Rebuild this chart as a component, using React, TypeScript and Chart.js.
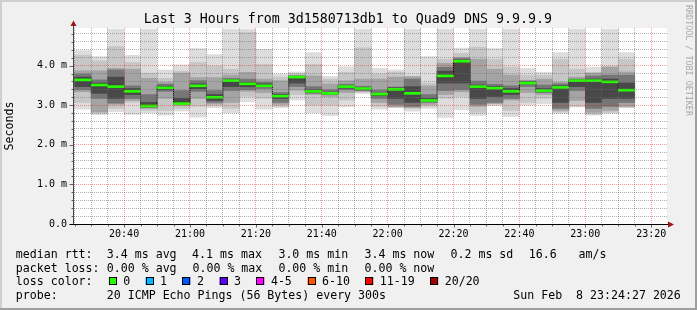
import { useEffect, useRef } from "react";
import { Chart, registerables } from "chart.js";

Chart.register(...registerables);

// ---------- data (ms) ----------
const bucketEnd = [
  "20:30", "20:35", "20:40", "20:45", "20:50", "20:55", "21:00", "21:05", "21:10", "21:15",
  "21:20", "21:25", "21:30", "21:35", "21:40", "21:45", "21:50", "21:55", "22:00", "22:05",
  "22:10", "22:15", "22:20", "22:25", "22:30", "22:35", "22:40", "22:45", "22:50", "22:55",
  "23:00", "23:05", "23:10", "23:15",
];

const medianRtt = [3.64, 3.51, 3.47, 3.35, 2.98, 3.44, 3.04, 3.49, 3.2, 3.62, 3.54, 3.49, 3.23, 3.71, 3.35, 3.3, 3.47, 3.42, 3.28, 3.4, 3.3, 3.12, 3.74, 4.11, 3.47, 3.43, 3.35, 3.56, 3.37, 3.45, 3.62, 3.62, 3.59, 3.38];

const smokeMin = [2.9, 2.76, 2.84, 2.77, 2.81, 2.75, 2.85, 2.7, 2.94, 2.81, 3.09, 2.9, 2.94, 3.13, 2.81, 2.74, 2.96, 3.3, 2.9, 2.94, 2.85, 2.92, 2.69, 2.89, 2.74, 2.99, 2.71, 3.0, 3.04, 2.79, 2.96, 2.75, 2.79, 2.94];
const smokeLo2 = [3.07, 2.8, 2.92, 3.07, 2.87, 2.87, 2.92, 2.97, 2.99, 2.92, 3.22, 3.17, 2.97, 3.27, 3.0, 3.0, 3.13, 3.33, 2.97, 2.95, 2.92, 2.97, 3.17, 3.22, 2.82, 3.02, 2.87, 3.07, 3.17, 2.83, 2.97, 2.77, 2.82, 2.95];
const smokeLo3 = [3.34, 2.83, 3.02, 3.12, 2.92, 3.17, 2.99, 3.17, 3.03, 3.07, 3.35, 3.32, 3.02, 3.38, 3.27, 3.22, 3.32, 3.35, 3.07, 2.96, 2.94, 3.02, 3.27, 3.34, 2.97, 3.04, 3.13, 3.32, 3.27, 2.87, 3.12, 2.82, 2.87, 2.97];
const smokeLo4 = [3.39, 3.17, 3.05, 3.17, 2.94, 3.35, 3.02, 3.35, 3.07, 3.37, 3.39, 3.42, 3.07, 3.47, 3.3, 3.27, 3.39, 3.37, 3.17, 3.02, 2.97, 3.07, 3.37, 3.39, 3.02, 3.07, 3.17, 3.47, 3.32, 2.92, 3.37, 2.92, 2.97, 3.07];
const smokeLo5 = [3.47, 3.3, 3.17, 3.27, 2.96, 3.39, 3.03, 3.42, 3.12, 3.47, 3.47, 3.47, 3.17, 3.56, 3.33, 3.29, 3.43, 3.39, 3.24, 3.17, 3.07, 3.1, 3.56, 3.56, 3.17, 3.22, 3.27, 3.54, 3.35, 3.07, 3.47, 3.07, 3.17, 3.17];
const smokeHi5 = [3.71, 3.56, 3.71, 3.42, 3.07, 3.48, 3.17, 3.54, 3.27, 3.64, 3.58, 3.54, 3.27, 3.72, 3.39, 3.33, 3.49, 3.44, 3.3, 3.44, 3.47, 3.17, 3.86, 4.14, 3.51, 3.47, 3.42, 3.59, 3.42, 3.49, 3.64, 3.66, 3.66, 3.56];
const smokeHi4 = [3.79, 3.64, 3.89, 3.49, 3.27, 3.53, 3.37, 3.62, 3.37, 3.68, 3.66, 3.58, 3.32, 3.74, 3.47, 3.39, 3.53, 3.48, 3.38, 3.46, 3.66, 3.27, 3.96, 4.18, 3.61, 3.53, 3.49, 3.61, 3.51, 3.54, 3.66, 3.74, 3.76, 3.76];
const smokeHi3 = [3.87, 3.87, 3.93, 3.91, 3.68, 3.58, 3.81, 3.7, 3.7, 3.76, 3.83, 3.66, 3.62, 3.76, 3.74, 3.54, 3.62, 3.66, 3.66, 3.71, 3.72, 3.49, 4.06, 4.21, 4.16, 3.91, 3.76, 3.63, 3.66, 3.58, 3.71, 3.81, 3.96, 3.84];
const smokeHi2 = [4.26, 4.12, 4.48, 4.08, 3.81, 3.68, 3.86, 4.08, 3.99, 3.91, 4.85, 4.03, 3.71, 3.8, 4.03, 3.66, 3.83, 4.45, 3.79, 3.84, 3.74, 3.56, 4.16, 4.31, 4.46, 4.16, 3.96, 3.76, 3.76, 4.16, 3.91, 3.83, 3.99, 4.16];
const smokeMax = [4.38, 4.23, 4.92, 4.26, 4.92, 3.89, 4.02, 4.43, 4.28, 4.92, 4.92, 4.41, 3.79, 3.84, 4.33, 3.73, 3.97, 4.92, 3.93, 3.89, 4.92, 4.23, 4.92, 4.44, 4.92, 4.43, 4.92, 3.93, 3.83, 4.33, 4.92, 3.96, 4.92, 4.33];

// ---------- axes ----------
const axisStart = "20:24:48";
const axisEnd = "23:24:48";
const xTickLabels = ["20:40", "21:00", "21:20", "21:40", "22:00", "22:20", "22:40", "23:00", "23:20"];
const yTickLabels = ["0.0", "1.0 m", "2.0 m", "3.0 m", "4.0 m"];
const yMax = 4.95;

// ---------- legend text ----------
const titleText = "Last 3 Hours from 3d1580713db1 to Quad9 DNS 9.9.9.9";
const rttStats = ["3.4 ms avg", "4.1 ms max", "3.0 ms min", "3.4 ms now", "0.2 ms sd", "16.6", "am/s"];
const lossStats = ["0.00 % avg", "0.00 % max", "0.00 % min", "0.00 % now"];
const lossLabels = ["0", "1", "2", "3", "4-5", "6-10", "11-19", "20/20"];
const lossColors = ["#26ff00", "#00b8ff", "#0059ff", "#5e00ff", "#ff00ff", "#ff5500", "#ff0000", "#a10000"];
const probeText = "20 ICMP Echo Pings (56 Bytes) every 300s";
const dateText = "Sun Feb  8 23:24:27 2026";
const watermark = "RRDTOOL / TOBI OETIKER";

// ---------- layout / style ----------
const W = 697;
const H = 310;
const MONO = '"DejaVu Sans Mono", monospace';
const rttX = [106.8, 192.1, 278.4, 364.5, 450.5, 528.8, 578.5];
const lossX = [106.8, 192.5, 278.4, 364.5];
const boxX = [108.8, 145.5, 182.4, 219.5, 256.4, 307.6, 365.3, 430.2];
const rowBase = [257.5, 271.5, 285.3, 299.3];
const smokeColors = ["#dddddd", "#c6c6c6", "#a4a4a4", "#767676", "#484848"];
const MEDIAN_HALF = 0.025;
const MAJOR_GRID = "rgba(255,0,0,0.4)";
const MINOR_GRID = "rgba(110,110,110,0.55)";

const toMin = (s: string) => {
  const p = s.split(":").map(Number);
  return (p[0] - 20) * 60 + p[1] + (p[2] || 0) / 60;
};

const isMajorY = (v: number) => Math.abs(v - Math.round(v)) < 1e-6;

const decorations = {
  id: "rrdDecor",
  beforeDraw(chart: any) {
    const { ctx, chartArea: ca } = chart;
    ctx.save();
    ctx.fillStyle = "#f0f0f0";
    ctx.fillRect(0, 0, W, H);
    ctx.fillStyle = "#cfcfcf";
    ctx.fillRect(0, 0, W, 2);
    ctx.fillRect(0, 0, 2, H);
    ctx.fillStyle = "#9e9e9e";
    ctx.fillRect(0, H - 2, W, 2);
    ctx.fillRect(W - 2, 0, 2, H);
    ctx.fillStyle = "#ffffff";
    ctx.fillRect(ca.left, ca.top, ca.right - ca.left, ca.bottom - ca.top);
    ctx.restore();
  },
  afterDraw(chart: any) {
    const { ctx, chartArea: ca } = chart;
    const xs = chart.scales.x;
    const ys = chart.scales.y;
    ctx.save();
    const left = Math.round(ca.left) - 0.5;
    const bottom = Math.round(ca.bottom) + 0.5;
    // tick marks
    ctx.strokeStyle = "#666";
    ctx.lineWidth = 1;
    ctx.beginPath();
    for (const t of ys.ticks) {
      const y = Math.round(ys.getPixelForValue(t.value)) + 0.5;
      const len = isMajorY(t.value) ? 4 : 2;
      ctx.moveTo(left - len, y);
      ctx.lineTo(left, y);
    }
    for (const t of xs.ticks) {
      const x = Math.round(xs.getPixelForValue(t.value)) + 0.5;
      const len = t.value % 20 === 0 ? 3 : 2;
      ctx.moveTo(x, bottom);
      ctx.lineTo(x, bottom + len);
    }
    ctx.stroke();
    // y axis
    ctx.strokeStyle = "#444";
    ctx.beginPath();
    ctx.moveTo(left, bottom);
    ctx.lineTo(left, ca.top - 2);
    ctx.stroke();
    // x axis
    ctx.strokeStyle = "#000";
    ctx.beginPath();
    ctx.moveTo(left - 4, bottom);
    ctx.lineTo(ca.right + 1, bottom);
    ctx.stroke();
    // arrows
    ctx.fillStyle = "#9e1414";
    ctx.beginPath();
    ctx.moveTo(left - 3, ca.top - 2);
    ctx.lineTo(left + 3, ca.top - 2);
    ctx.lineTo(left, ca.top - 7.5);
    ctx.closePath();
    ctx.fill();
    ctx.beginPath();
    ctx.moveTo(ca.right + 1, bottom - 3);
    ctx.lineTo(ca.right + 1, bottom + 3);
    ctx.lineTo(ca.right + 7, bottom);
    ctx.closePath();
    ctx.fill();

    // title
    ctx.fillStyle = "#000";
    ctx.textBaseline = "alphabetic";
    ctx.font = `13.3px ${MONO}`;
    ctx.textAlign = "center";
    ctx.fillText(titleText, 347.8, 23.3);

    // legend
    ctx.textAlign = "left";
    ctx.font = `11.6px ${MONO}`;
    ctx.fillText("median rtt:", 15.8, rowBase[0]);
    rttStats.forEach((s, i) => ctx.fillText(s, rttX[i], rowBase[0]));
    ctx.fillText("packet loss:", 15.8, rowBase[1]);
    lossStats.forEach((s, i) => ctx.fillText(s, lossX[i], rowBase[1]));
    ctx.fillText("loss color:", 15.8, rowBase[2]);
    lossLabels.forEach((s, i) => {
      ctx.fillStyle = lossColors[i];
      ctx.fillRect(boxX[i], 277, 8, 8);
      ctx.strokeStyle = "#000";
      ctx.strokeRect(Math.round(boxX[i]) + 0.5, 277.5, 7, 7);
      ctx.fillStyle = "#000";
      ctx.fillText(s, boxX[i] + 14.5, rowBase[2]);
    });
    ctx.fillText("probe:", 15.8, rowBase[3]);
    ctx.fillText(probeText, 106.8, rowBase[3]);
    ctx.textAlign = "right";
    ctx.fillText(dateText, 680.8, rowBase[3]);

    // watermark
    ctx.translate(688, 5);
    ctx.rotate(Math.PI / 2);
    ctx.textAlign = "left";
    ctx.textBaseline = "middle";
    ctx.font = `8.4px ${MONO}`;
    ctx.fillStyle = "#a8a8a8";
    ctx.fillText(watermark, 0, 0);
    ctx.restore();
  },
};

export default function App() {
  const ref = useRef<HTMLCanvasElement | null>(null);

  useEffect(() => {
    if (!ref.current) return;
    Chart.defaults.font.family = MONO;
    const centers = bucketEnd.map((t) => toMin(t) - 2.5);
    const layers = [
      [smokeMin, smokeMax],
      [smokeLo2, smokeHi2],
      [smokeLo3, smokeHi3],
      [smokeLo4, smokeHi4],
      [smokeLo5, smokeHi5],
    ];
    const barCommon = {
      type: "bar" as const,
      grouped: false,
      barPercentage: 1,
      categoryPercentage: 1,
      borderWidth: 0,
    };
    const datasets: any[] = layers.map(([lo, hi], li) => ({
      ...barCommon,
      label: `smoke${li}`,
      data: centers.map((x, i) => ({ x, y: [lo[i], hi[i]] })),
      backgroundColor: smokeColors[li],
      order: 10 - li,
    }));
    datasets.push({
      type: "line",
      label: "median step",
      data: centers.map((x, i) => ({ x, y: medianRtt[i] })),
      stepped: "middle",
      borderColor: "#000",
      borderWidth: 1,
      borderDash: [1, 1],
      pointRadius: 0,
      fill: false,
      order: 1,
    });
    datasets.push({
      ...barCommon,
      label: "median",
      data: centers.map((x, i) => ({ x, y: [medianRtt[i] - MEDIAN_HALF, medianRtt[i] + MEDIAN_HALF] })),
      backgroundColor: lossColors[0],
      order: 0,
    });

    const xMin = toMin(axisStart);
    const xMax = toMin(axisEnd);
    const xTickValues: number[] = [];
    for (let m = Math.ceil(xMin / 5) * 5; m <= xMax; m += 5) xTickValues.push(m);
    const yTickValues: number[] = [];
    for (let i = 0; i * 0.2 < yMax - 0.01; i++) yTickValues.push(Math.round(i * 2) / 10);

    const chart = new Chart(ref.current, {
      type: "bar",
      data: { datasets },
      options: {
        responsive: false,
        animation: false,
        devicePixelRatio: 1,
        layout: { padding: { left: 0, right: 30, top: 28, bottom: 66 } },
        plugins: { legend: { display: false }, tooltip: { enabled: false }, title: { display: false } },
        scales: {
          x: {
            type: "linear",
            min: xMin,
            max: xMax,
            offset: false,
            afterBuildTicks: (s: any) => {
              s.ticks = xTickValues.map((v) => ({ value: v }));
            },
            ticks: {
              autoSkip: false,
              maxRotation: 0,
              minRotation: 0,
              padding: 4,
              color: "#000",
              font: { family: MONO, size: 10 },
              callback: (v: any) => {
                const lab = xTickLabels.find((l) => Math.abs(toMin(l) - Number(v)) < 1e-6);
                return lab || "";
              },
            },
            grid: {
              offset: false,
              z: 1,
              drawTicks: false,
              lineWidth: 1,
              color: (c: any) => (c.tick && c.tick.value % 20 === 0 ? MAJOR_GRID : MINOR_GRID),
            },
            border: { display: false, dash: [1, 1] },
          },
          y: {
            type: "linear",
            min: 0,
            max: yMax,
            afterBuildTicks: (s: any) => {
              s.ticks = yTickValues.map((v) => ({ value: v }));
            },
            ticks: {
              autoSkip: false,
              padding: 7,
              color: "#000",
              font: { family: MONO, size: 10 },
              callback: (v: any) => {
                const n = Number(v);
                return isMajorY(n) ? yTickLabels[Math.round(n)] || "" : "";
              },
            },
            title: {
              display: true,
              text: "Seconds",
              color: "#000",
              font: { family: MONO, size: 11.6 },
              padding: { top: 3, bottom: 13 },
            },
            grid: {
              z: 1,
              drawTicks: false,
              lineWidth: 1,
              color: (c: any) => (c.tick && isMajorY(c.tick.value) ? MAJOR_GRID : MINOR_GRID),
            },
            border: { display: false, dash: [1, 1] },
          },
        },
      } as any,
      plugins: [decorations],
    });
    return () => chart.destroy();
  }, []);

  return (
    <div style={{ position: "fixed", left: 0, top: 0, width: W, height: H }}>
      <canvas ref={ref} width={W} height={H} style={{ display: "block", width: W, height: H }} />
    </div>
  );
}
